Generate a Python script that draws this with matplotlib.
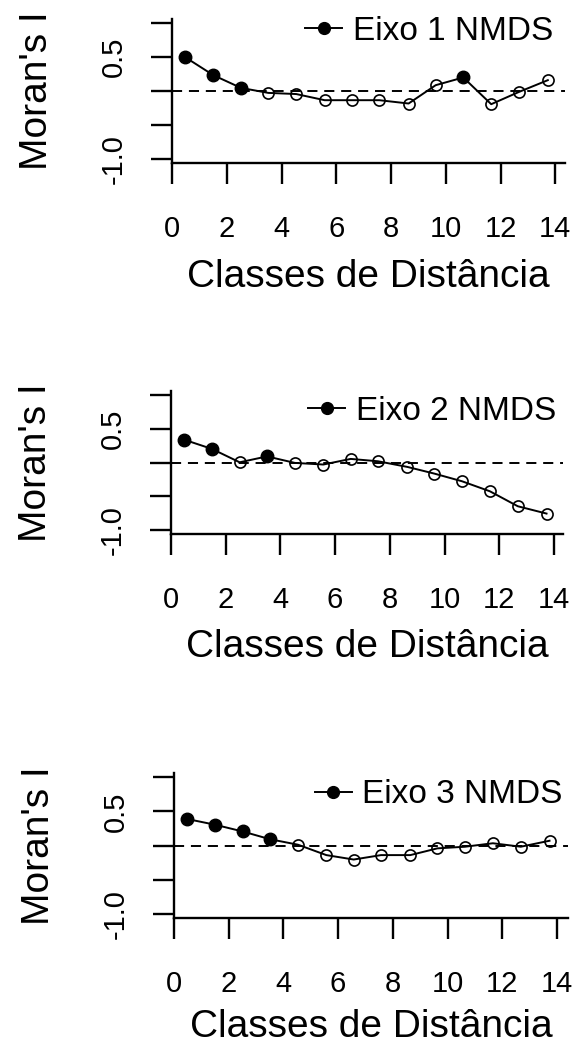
import matplotlib

matplotlib.use("Agg")

import matplotlib.pyplot as plt
import numpy as np
from matplotlib.lines import Line2D

plt.rcParams["font.family"] = ["Liberation Sans", "DejaVu Sans"]

# distance class midpoints (shared by the three correlograms)
dist_classes = [0.47, 1.50, 2.51, 3.51, 4.53, 5.57, 6.57, 7.57, 8.64, 9.63, 10.64, 11.66, 12.68, 13.73]

# Moran's I per distance class for each NMDS axis
moran_eixo1 = [0.50, 0.234, 0.046, -0.028, -0.045, -0.136, -0.136, -0.136, -0.185, 0.086, 0.20, -0.195, -0.013, 0.16]
moran_eixo2 = [0.338, 0.20, 0.003, 0.09, -0.006, -0.03, 0.053, 0.018, -0.065, -0.164, -0.277, -0.425, -0.646, -0.754]
moran_eixo3 = [0.39, 0.305, 0.206, 0.092, 0.012, -0.141, -0.206, -0.141, -0.141, -0.042, -0.018, 0.033, -0.018, 0.07]

# significant classes are drawn with filled symbols
signif_eixo1 = [1, 1, 1, 0, 0, 0, 0, 0, 0, 0, 1, 0, 0, 0]
signif_eixo2 = [1, 1, 0, 1, 0, 0, 0, 0, 0, 0, 0, 0, 0, 0]
signif_eixo3 = [1, 1, 1, 1, 0, 0, 0, 0, 0, 0, 0, 0, 0, 0]

legend_labels = ["Eixo 1 NMDS", "Eixo 2 NMDS", "Eixo 3 NMDS"]
x_ticks = [0, 2, 4, 6, 8, 10, 12, 14]
y_ticks = [-1.0, -0.5, 0.0, 0.5, 1.0]
y_tick_labels = ["-1.0", "", "", "0.5", ""]

W, H = 578, 1045
PX_PER_UNIT = 27.35

# panel boxes in pixels: left, top, right, bottom
panel_boxes = [
    (172.3, 19.3, 565.0, 162.7),
    (171.0, 390.7, 563.3, 534.3),
    (174.0, 773.3, 568.3, 917.7),
]
legend_anchor = [(0.969, 0.916), (0.981, 0.857), (0.986, 0.852)]
xlabel_offset = [124, 123, 119]


def draw_panel(fig, box, values, signif, label, anchor, xlab_off):
    left, top, right, bottom = box
    ax = fig.add_axes([left / W, 1 - bottom / H, (right - left) / W, (bottom - top) / H])
    x = np.asarray(dist_classes)
    y = np.asarray(values)
    sig = np.asarray(signif, dtype=bool)

    ax.axhline(0, color="black", lw=1.4, ls=(0, (5.2, 3.5)), zorder=1)
    ax.plot(x, y, color="black", lw=1.4, zorder=2)
    ax.plot(x[~sig], y[~sig], "o", ms=8, mfc="none", mec="black", mew=1.2, zorder=3)
    ax.plot(x[sig], y[sig], "o", ms=9, mfc="black", mec="black", mew=1.0, zorder=3)

    ax.set_xlim(0, (right - left) / PX_PER_UNIT)
    ax.set_ylim(-1.06, 1.06)
    ax.set_xticks(x_ticks)
    ax.set_yticks(y_ticks)
    ax.set_yticklabels(y_tick_labels, rotation=90, va="center")

    for side in ("top", "right"):
        ax.spines[side].set_visible(False)
    for side in ("left", "bottom"):
        ax.spines[side].set_linewidth(1.7)

    ax.tick_params(direction="out", length=14.8, width=1.7, labelsize=21)
    ax.tick_params(axis="x", pad=22.5)
    ax.tick_params(axis="y", pad=17)

    ax.set_xlabel("Classes de Distância", fontsize=28)
    ax.xaxis.label.set_va("baseline")
    ax.xaxis.set_label_coords(0.5, -xlab_off / (bottom - top))

    ax.set_ylabel("Moran's I", fontsize=28)
    ax.yaxis.label.set(rotation_mode="anchor", va="baseline", ha="center")
    ax.yaxis.set_label_coords(-125 / (right - left), 0.5)

    handle = Line2D([], [], color="black", lw=1.4, marker="o", ms=8.5, mfc="black")
    ax.legend([handle], [label], loc="center right", bbox_to_anchor=anchor,
              frameon=False, fontsize=24, borderpad=0, borderaxespad=0,
              handlelength=1.1, handletextpad=0.32)
    return ax


fig = plt.figure(figsize=(W / 100, H / 100), dpi=100)
series = [moran_eixo1, moran_eixo2, moran_eixo3]
signifs = [signif_eixo1, signif_eixo2, signif_eixo3]
for box, vals, sig, lab, anc, off in zip(panel_boxes, series, signifs, legend_labels,
                                         legend_anchor, xlabel_offset):
    draw_panel(fig, box, vals, sig, lab, anc, off)

fig.savefig("out.png", dpi=100)
